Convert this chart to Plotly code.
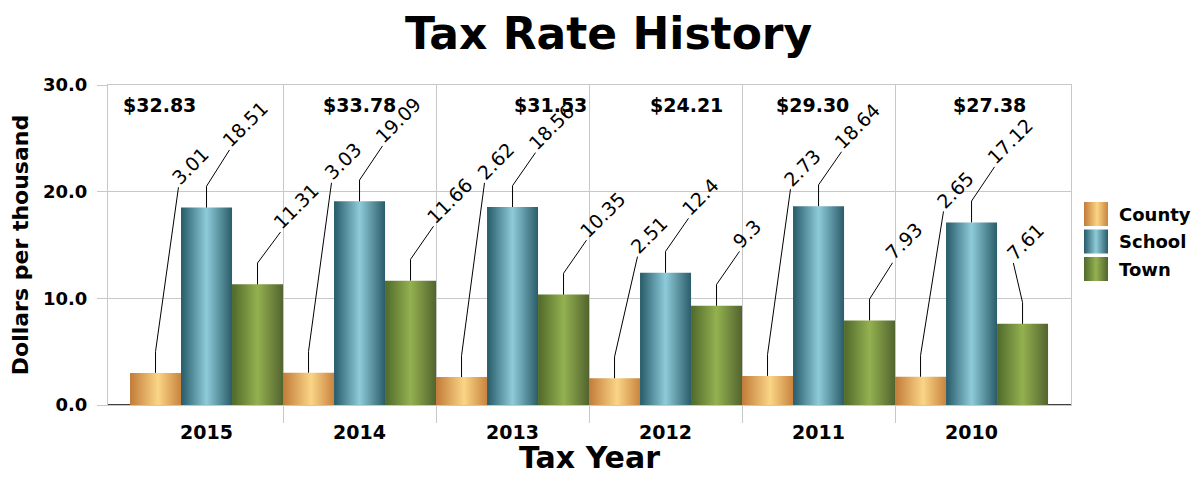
import plotly.graph_objects as go

years = ["2015", "2014", "2013", "2012", "2011", "2010"]
county = [3.01, 3.03, 2.62, 2.51, 2.73, 2.65]
school = [18.51, 19.09, 18.56, 12.4, 18.64, 17.12]
town = [11.31, 11.66, 10.35, 9.3, 7.93, 7.61]
y_ticks = [0, 10, 20, 30]
series_names = ["County", "School", "Town"]

series = [
    (series_names[0], county, ["#c27b38", "#fad587", "#c9843f"], 0.55),
    (series_names[1], school, ["#265a68", "#8ecbd9", "#2b5c69"], 0.5),
    (series_names[2], town, ["#4f692a", "#94b150", "#52642e"], 0.5),
]

# label placement (layout): height of label above its bar top, in axis units
label_raise = {
    "County": [17.4, 17.8, 18.2, 11.4, 17.5, 15.5],
    "School": [5.4, 5.2, 5.1, 5.1, 5.1, 5.2],
    "Town": [4.9, 5.1, 5.1, 5.1, 5.4, 5.7],
}
label_dx = {
    "County": [0.15] * 6,
    "School": [0.15] * 6,
    "Town": [0.15, 0.15, 0.15, 0.15, 0.15, -0.06],
}
total_x = [-0.31, 1.0, 2.245, 3.14, 3.96, 5.12]
X_RANGE = [-0.644, 5.65]

FONT = "DejaVu Sans"
W, H = 1185, 467
ML, MT, MR = 100, 77, 0
PLOT_W, PLOT_H = 963, 320
MB = H - MT - PLOT_H
dom_end = PLOT_W / (W - ML - MR)

fig = go.Figure()
annotations = []
w = 1.0 / 3.0
n = len(years)

# black axis baseline visible beyond the outer bars
fig.add_trace(go.Scatter(
    x=[X_RANGE[0], -0.5, None, n - 0.5, X_RANGE[1]], y=[0, 0, None, 0, 0],
    mode="lines", line=dict(color="#000000", width=1.5),
    showlegend=False, hoverinfo="skip", cliponaxis=False,
))

for j, (name, vals, cols, mid) in enumerate(series):
    lx, ly = [], []
    for i, v in enumerate(vals):
        x0 = i - 0.5 + j * w
        x1 = x0 + w
        fig.add_trace(go.Scatter(
            x=[x0, x1, x1, x0, x0], y=[0, 0, v, v, 0],
            mode="lines", line=dict(width=0), fill="toself",
            fillgradient=dict(type="horizontal",
                              colorscale=[[0, cols[0]], [mid, cols[1]], [1, cols[2]]]),
            name=name, showlegend=False, hoverinfo="skip",
        ))
        xc = x0 + w / 2
        tx = xc + label_dx[name][i]
        ty = v + label_raise[name][i]
        lx += [xc, xc, tx, None]
        ly += [v, v + 2.0, ty, None]
        annotations.append(dict(
            x=tx, y=ty, xref="x", yref="y", text=f"{v:g}", showarrow=False,
            textangle=-45, xanchor="left", yanchor="bottom", xshift=-14, yshift=-4,
            font=dict(family=FONT, size=19, color="#000000"),
        ))
    fig.add_trace(go.Scatter(x=lx, y=ly, mode="lines",
                             line=dict(color="#000000", width=1),
                             showlegend=False, hoverinfo="skip"))

    # legend swatch (drawn on a separate small pixel-unit axis pair)
    top = 117 + j * 27.5
    fig.add_trace(go.Scatter(
        x=[13, 37, 37, 13, 13], y=[top, top, top + 24, top + 24, top],
        xaxis="x2", yaxis="y2", mode="lines", line=dict(width=0), fill="toself",
        fillgradient=dict(type="horizontal",
                          colorscale=[[0, cols[0]], [mid, cols[1]], [1, cols[2]]]),
        showlegend=False, hoverinfo="skip",
    ))
    annotations.append(dict(
        x=46, y=top + 12, xref="x2", yref="y2", text=f"<b>{name}</b>",
        showarrow=False, xanchor="left", yanchor="middle",
        font=dict(family=FONT, size=18, color="#000000"),
    ))

for i in range(n):
    tot = county[i] + school[i] + town[i]
    annotations.append(dict(
        x=total_x[i], y=28.1, xref="x", yref="y", text=f"<b>${tot:.2f}</b>",
        showarrow=False, font=dict(family=FONT, size=19, color="#000000"),
    ))

# chart title as a paper annotation (kept fully inside the figure)
annotations.append(dict(
    x=0.507 * W / (W - ML - MR) - ML / (W - ML - MR), y=1 + (MT - 26) / PLOT_H,
    xref="paper", yref="paper", text="<b>Tax Rate History</b>", showarrow=False,
    xanchor="center", yanchor="middle",
    font=dict(family=FONT, size=44, color="#000000"),
))

grid = "#c8c8c8"
fig.update_layout(
    width=W, height=H,
    margin=dict(l=ML, r=MR, t=MT, b=MB, autoexpand=False),
    paper_bgcolor="white", plot_bgcolor="white",
    xaxis=dict(
        domain=[0, dom_end],
        range=X_RANGE, tickmode="array", tickvals=list(range(n)),
        ticktext=[f"<b>{y}</b>" for y in years], ticks="", showgrid=False,
        tickfont=dict(family=FONT, size=19, color="#000000"), ticklabelstandoff=10,
        zeroline=False, showline=True, linecolor=grid, mirror=True,
        minor=dict(tickmode="array", tickvals=[k + 0.5 for k in range(n - 1)],
                   ticks="outside", ticklen=17, tickcolor=grid, tickwidth=1,
                   showgrid=True, gridcolor=grid, gridwidth=1),
        title=dict(text="<b>Tax Year</b>", font=dict(family=FONT, size=30, color="#000000"),
                   standoff=17),
        automargin=False, fixedrange=True,
    ),
    yaxis=dict(
        range=[0, 30], tickmode="array", tickvals=y_ticks,
        ticktext=[f"<b>{t:.1f}</b>" for t in y_ticks],
        tickfont=dict(family=FONT, size=18, color="#000000"), ticklabelstandoff=6,
        ticks="outside", ticklen=10, tickcolor=grid,
        showgrid=True, gridcolor=grid, gridwidth=1,
        zeroline=False, showline=True, linecolor=grid, mirror=True,
        title=dict(text="<b>Dollars per thousand</b>",
                   font=dict(family=FONT, size=22, color="#000000"), standoff=10),
        automargin=False, fixedrange=True,
    ),
    xaxis2=dict(domain=[dom_end, 1], range=[0, W - ML - MR - PLOT_W], anchor="y2",
                visible=False, fixedrange=True),
    yaxis2=dict(domain=[0, 1], range=[PLOT_H, 0], anchor="x2",
                visible=False, fixedrange=True),
    annotations=annotations,
    showlegend=False,
)

fig.write_html("out.html")
